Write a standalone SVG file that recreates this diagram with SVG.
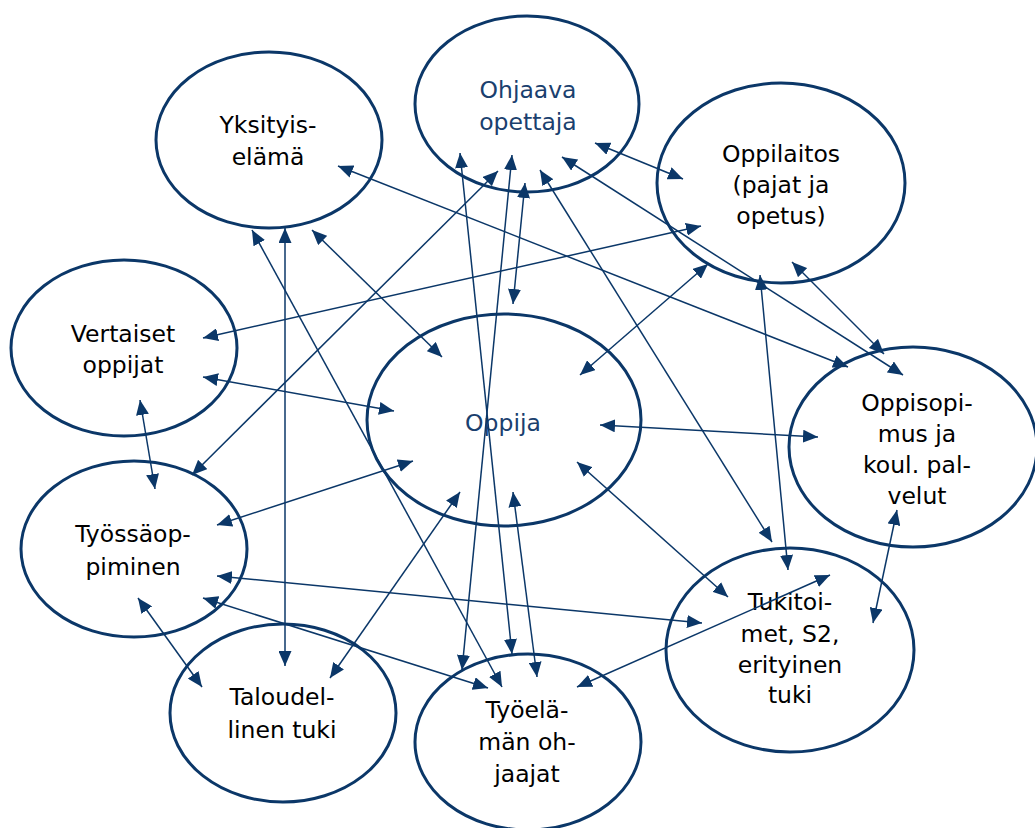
<svg xmlns="http://www.w3.org/2000/svg" width="1035" height="828" viewBox="0 0 1035 828">
<defs>
<marker id="ah" markerUnits="userSpaceOnUse" markerWidth="15" markerHeight="13" refX="15" refY="6.5" orient="auto-start-reverse" viewBox="0 0 15 13">
<path d="M0,0 L15,6.5 L0,13 z" fill="#0b3768"/>
</marker>
</defs>
<style>
.node ellipse{fill:#fff;stroke:#0b3768;stroke-width:3}
.node text{font-family:"DejaVu Sans",Verdana,sans-serif;font-size:23.5px;fill:#000;text-anchor:middle}
.node text.blue{fill:#1a406e}
#connectors line{stroke:#0b3768;stroke-width:1.5;marker-start:url(#ah);marker-end:url(#ah)}
</style>
<rect width="1035" height="828" fill="#fff"/>
<g id="n-yksityis" class="node"><ellipse cx="269" cy="140" rx="113" ry="88"/><text x="268" y="133">Yksityis-</text><text x="268" y="165">elämä</text></g>
<g id="n-ohjaava" class="node"><ellipse cx="527" cy="104" rx="112" ry="88"/><text class="blue" x="528" y="98">Ohjaava</text><text class="blue" x="528" y="130">opettaja</text></g>
<g id="n-oppilaitos" class="node"><ellipse cx="781" cy="183" rx="124" ry="100"/><text x="781" y="162">Oppilaitos</text><text x="781" y="193">(pajat ja</text><text x="781" y="224">opetus)</text></g>
<g id="n-vertaiset" class="node"><ellipse cx="124" cy="348" rx="113" ry="88"/><text x="123" y="342">Vertaiset</text><text x="123" y="373">oppijat</text></g>
<g id="n-oppija" class="node"><ellipse cx="504" cy="420" rx="137" ry="106"/><text class="blue" x="503" y="431">Oppija</text></g>
<g id="n-oppisopimus" class="node"><ellipse cx="913" cy="447" rx="124" ry="100"/><text x="917" y="411">Oppisopi-</text><text x="917" y="442">mus ja</text><text x="917" y="473">koul. pal-</text><text x="917" y="504">velut</text></g>
<g id="n-tyossa" class="node"><ellipse cx="134" cy="549" rx="113" ry="88"/><text x="133" y="542">Työssäop-</text><text x="133" y="575">piminen</text></g>
<g id="n-taloudel" class="node"><ellipse cx="283" cy="713" rx="113" ry="89"/><text x="282" y="705">Taloudel-</text><text x="282" y="738">linen tuki</text></g>
<g id="n-tyoelama" class="node"><ellipse cx="528" cy="742" rx="113" ry="88"/><text x="527" y="718">Työelä-</text><text x="527" y="750">män oh-</text><text x="527" y="782">jaajat</text></g>
<g id="n-tukitoimet" class="node"><ellipse cx="790" cy="650" rx="124" ry="102"/><text x="790" y="610">Tukitoi-</text><text x="790" y="642">met, S2,</text><text x="790" y="673">erityinen</text><text x="790" y="703">tuki</text></g>
<g id="connectors">
<line x1="338" y1="166" x2="848" y2="367"/>
<line x1="252" y1="230" x2="502" y2="687"/>
<line x1="285" y1="228" x2="285" y2="666"/>
<line x1="312" y1="230" x2="442" y2="357"/>
<line x1="203" y1="338" x2="701" y2="226"/>
<line x1="203" y1="377" x2="394" y2="411"/>
<line x1="140" y1="400" x2="155" y2="489"/>
<line x1="460" y1="153" x2="512" y2="654"/>
<line x1="512" y1="155" x2="462" y2="670"/>
<line x1="498" y1="171" x2="192" y2="475"/>
<line x1="525" y1="183" x2="513" y2="304"/>
<line x1="540" y1="170" x2="772" y2="542"/>
<line x1="562" y1="157" x2="903" y2="375"/>
<line x1="595" y1="143" x2="683" y2="179"/>
<line x1="760" y1="275" x2="788" y2="570"/>
<line x1="708" y1="264" x2="580" y2="375"/>
<line x1="792" y1="262" x2="884" y2="354"/>
<line x1="600" y1="425" x2="818" y2="437"/>
<line x1="577" y1="462" x2="728" y2="597"/>
<line x1="513" y1="492" x2="537" y2="677"/>
<line x1="460" y1="492" x2="330" y2="678"/>
<line x1="413" y1="461" x2="217" y2="525"/>
<line x1="217" y1="576" x2="702" y2="623"/>
<line x1="203" y1="598" x2="488" y2="688"/>
<line x1="138" y1="598" x2="202" y2="687"/>
<line x1="830" y1="575" x2="577" y2="687"/>
<line x1="873" y1="623" x2="897" y2="510"/>
</g>
</svg>
